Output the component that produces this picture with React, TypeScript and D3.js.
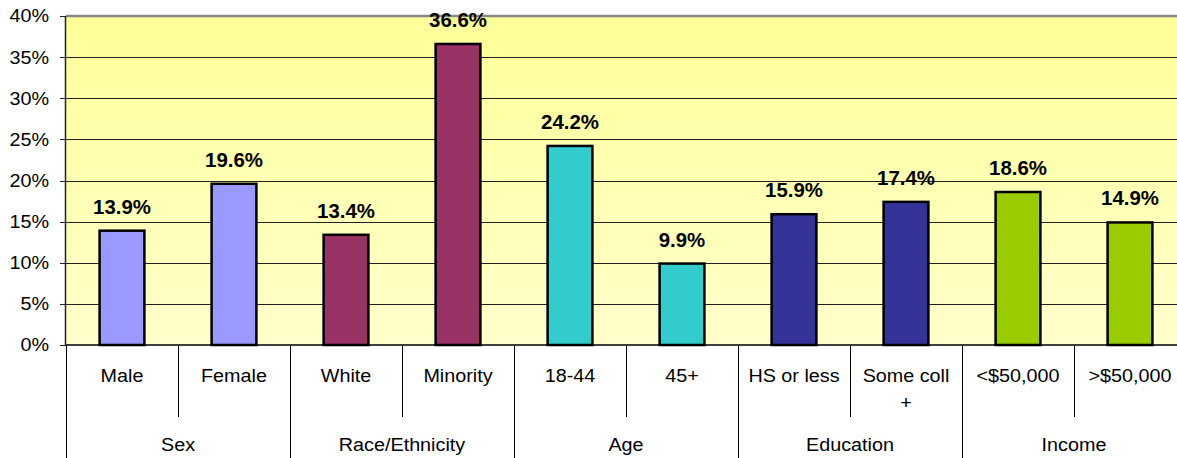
import React from "react";
import * as d3 from "d3";

const categories = ["Male", "Female", "White", "Minority", "18-44", "45+", "HS or less", "Some coll +", "<$50,000", ">$50,000"];
const values = [13.9, 19.6, 13.4, 36.6, 24.2, 9.9, 15.9, 17.4, 18.6, 14.9];
const groups = ["Sex", "Race/Ethnicity", "Age", "Education", "Income"];
const groupColors = ["#9999FF", "#993366", "#33CCCC", "#333399", "#99CC00"];
const yTicks = [0, 5, 10, 15, 20, 25, 30, 35, 40];

const W = 1177;
const H = 458;
const left = 66;
const right = 1186;
const top = 16;
const bottom = 345;
const SX = 1.13;
const FONT = "'Liberation Sans', Arial, sans-serif";

function wrap(s: string): string[] {
  if (s.length > 10) {
    const i = s.lastIndexOf(" ");
    return [s.slice(0, i), s.slice(i + 1)];
  }
  return [s];
}

function STxt(props: { x: number; y: number; anchor: string; size: number; bold?: boolean; sx?: number; children: React.ReactNode }) {
  const sx = props.sx ?? SX;
  return (
    <text
      transform={`translate(${props.x},${props.y}) scale(${sx},1)`}
      textAnchor={props.anchor as any}
      fontSize={props.size}
      fontWeight={props.bold ? "bold" : "normal"}
      fontFamily={FONT}
      fill="#000"
    >
      {props.children}
    </text>
  );
}

export default function App() {
  const x = d3.scaleBand<number>().domain(d3.range(categories.length)).range([left, right]).paddingInner(0.6).paddingOuter(0.3);
  const y = d3.scaleLinear().domain([0, 40]).range([bottom, top]);
  const step = x.step();
  const groupSize = categories.length / groups.length;

  return (
    <svg width={W} height={H} style={{ position: "absolute", left: 0, top: 0, background: "#fff" }}>
      <defs>
        <linearGradient id="bg" x1="0" y1="0" x2="0" y2="1">
          <stop offset="0" stopColor="#FFFF99" />
          <stop offset="1" stopColor="#FFFFCC" />
        </linearGradient>
      </defs>
      <rect x={left} y={top} width={right - left} height={bottom - top} fill="url(#bg)" />
      {yTicks.filter((t) => t > 0 && t < 40).map((t) => (
        <line key={t} x1={left} x2={right} y1={Math.round(y(t)) + 0.5} y2={Math.round(y(t)) + 0.5} stroke="#222" strokeWidth={1} />
      ))}
      <line x1={left} x2={right} y1={top} y2={top} stroke="#888" strokeWidth={2.5} />
      {categories.map((c, i) => {
        const g = Math.floor(i / groupSize);
        return (
          <rect
            key={c}
            x={x(i)!}
            y={y(values[i])}
            width={x.bandwidth()}
            height={bottom - y(values[i])}
            fill={groupColors[g]}
            stroke="#000"
            strokeWidth={2.5}
          />
        );
      })}
      {categories.map((c, i) => (
        <STxt key={"v" + c} x={x(i)! + x.bandwidth() / 2} y={y(values[i]) - 17} anchor="middle" size={20} bold sx={1.02}>
          {values[i].toFixed(1) + "%"}
        </STxt>
      ))}
      {/* y axis */}
      <line x1={left - 0.5} x2={left - 0.5} y1={top} y2={bottom} stroke="#222" strokeWidth={1.5} />
      {yTicks.map((t) => (
        <g key={"t" + t}>
          <line x1={left - 6} x2={left} y1={Math.round(y(t)) + 0.5} y2={Math.round(y(t)) + 0.5} stroke="#222" strokeWidth={1} />
          <STxt x={49} y={y(t) + 6.4} anchor="end" size={17.5}>
            {t + "%"}
          </STxt>
        </g>
      ))}
      <line x1={left} x2={right} y1={bottom} y2={bottom} stroke="#000" strokeWidth={1.5} />
      {/* category axis */}
      {d3.range(categories.length + 1).map((i) => {
        const xx = Math.round(left + i * step) + 0.5;
        const major = i % groupSize === 0;
        return <line key={"s" + i} x1={xx} x2={xx} y1={bottom} y2={major ? H : 417} stroke="#000" strokeWidth={1} />;
      })}
      {categories.map((c, i) => {
        const cx = left + (i + 0.5) * step;
        return wrap(c).map((line, k) => (
          <STxt key={"c" + i + k} x={cx} y={382 + k * 27} anchor="middle" size={17.5}>
            {line}
          </STxt>
        ));
      })}
      {groups.map((g, gi) => (
        <STxt key={"g" + g} x={left + (gi + 0.5) * groupSize * step} y={451} anchor="middle" size={17.5}>
          {g}
        </STxt>
      ))}
    </svg>
  );
}
